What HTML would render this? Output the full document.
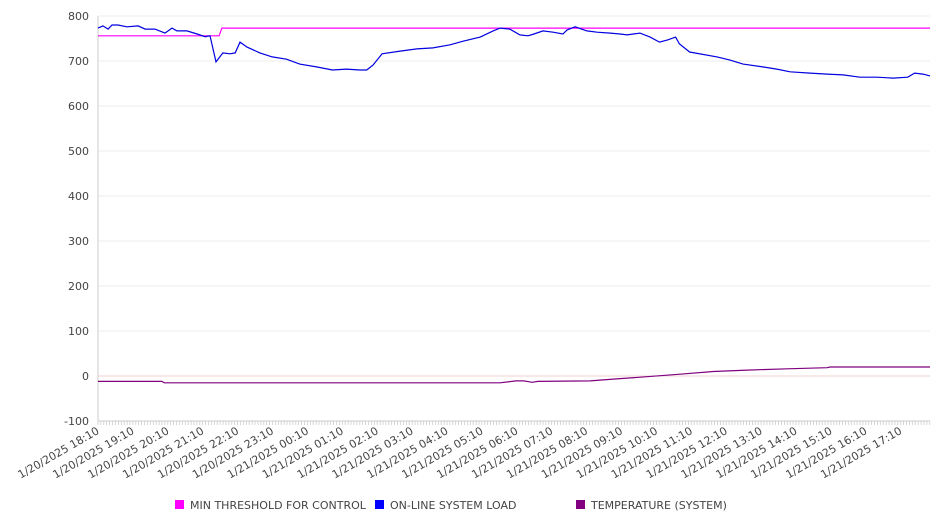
<!DOCTYPE html>
<html><head><meta charset="utf-8"><style>
body{margin:0;background:#fff;font-family:"DejaVu Sans","Liberation Sans",sans-serif;}
svg text{font-family:"DejaVu Sans","Liberation Sans",sans-serif;fill:#444;}
</style></head><body>
<svg id="c" width="946" height="526"></svg>
<script>
const yTicks=[800,700,600,500,400,300,200,100,0,-100];
const xLabels=["1/20/2025 18:10","1/20/2025 19:10","1/20/2025 20:10","1/20/2025 21:10","1/20/2025 22:10","1/20/2025 23:10","1/21/2025 00:10","1/21/2025 01:10","1/21/2025 02:10","1/21/2025 03:10","1/21/2025 04:10","1/21/2025 05:10","1/21/2025 06:10","1/21/2025 07:10","1/21/2025 08:10","1/21/2025 09:10","1/21/2025 10:10","1/21/2025 11:10","1/21/2025 12:10","1/21/2025 13:10","1/21/2025 14:10","1/21/2025 15:10","1/21/2025 16:10","1/21/2025 17:10"];
// hours since 18:10
const loadT=[0,0.14,0.29,0.4,0.57,0.83,1.15,1.35,1.63,1.92,2.12,2.26,2.55,2.84,3.07,3.21,3.38,3.58,3.78,3.93,4.07,4.27,4.64,4.99,5.4,5.78,6.26,6.72,7.12,7.5,7.7,7.88,8.14,8.66,9.14,9.6,10.09,10.46,10.95,11.32,11.52,11.8,12.09,12.32,12.49,12.75,13.04,13.32,13.44,13.67,14.01,14.3,14.68,14.96,15.16,15.53,15.82,16.09,16.32,16.55,16.66,16.95,17.74,18.11,18.48,19.05,19.45,19.83,20.4,20.89,21.35,21.83,22.32,22.78,23.2,23.4,23.64,23.84];
const loadV=[773,778,771,780,780,776,778,771,771,762,773,767,767,760,754,756,698,718,716,718,742,731,718,709,704,693,687,680,682,680,680,691,716,722,727,729,736,744,753,767,773,771,758,756,760,767,764,760,769,776,767,764,762,760,758,762,753,742,747,753,738,720,709,702,693,687,682,676,673,671,669,664,664,662,664,673,671,667];
const threshT=[0,3.47,3.55,23.84];
const threshV=[756,756,773,773];
const tempT=[0,1.83,1.9,11.52,11.97,12.2,12.44,12.6,14.1,14.76,15.73,16.68,17.63,18.6,19.75,20.89,20.98,23.84];
const tempV=[-12,-12,-15,-15,-11,-11,-14,-12,-11,-7,-1.5,4,10,13,16,18.5,20,20];
const NS="http://www.w3.org/2000/svg",svg=document.getElementById('c');
const X0=98,X1=930,HPX=34.9,Y0=16,Y1=421;
const xs=h=>X0+h*HPX, ys=v=>Y1-(v+100)*(Y1-Y0)/900;
function el(t,a,p){const e=document.createElementNS(NS,t);for(const k in a)e.setAttribute(k,a[k]);(p||svg).appendChild(e);return e;}
yTicks.forEach(v=>{
 const g=el('line',{x1:X0,x2:X1,y1:ys(v),y2:ys(v),stroke:v===0?'#f3d0d0':'#ececec'});
 
 
 const t=el('text',{x:89,y:ys(v)+4,'text-anchor':'end','font-size':11});t.textContent=v;
 
 
});
const ax=el('line',{x1:X0,x2:X0,y1:Y0,y2:Y1,stroke:'#ccc'});


const bx=el('line',{x1:X0,x2:X1,y1:Y1,y2:Y1,stroke:'#ccc'});


let d='';for(let i=0;i<=286;i++){const x=X0+i*HPX/12;if(x>X1)break;d+=`M${x.toFixed(1)} ${Y1}v4`;}
const mt=el('path',{d:d,stroke:'#ccc','stroke-width':0.8});


xLabels.forEach((s,i)=>{const x=xs(i)+2,y=Y1+12;
 const t=el('text',{x:x,y:y,'text-anchor':'end','font-size':11,transform:`rotate(-30 ${x} ${y})`});t.textContent=s;
 
 
});
function line(T,V,c,n){const p=el('polyline',{points:T.map((t,i)=>xs(t).toFixed(1)+','+ys(V[i]).toFixed(1)).join(' '),fill:'none',stroke:c,'stroke-width':1.2});
 
 }
line(tempT,tempV,'#800080','temperature-line');
line(threshT,threshV,'#ff00ff','threshold-line');
line(loadT,loadV,'#0000e0','load-line');
const leg=[['#ff00ff','MIN THRESHOLD FOR CONTROL',175],['#0000ff','ON-LINE SYSTEM LOAD',375],['#800080','TEMPERATURE (SYSTEM)',576]];
leg.forEach(l=>{const g=el('g',{});
 
 
 el('rect',{x:l[2],y:500,width:9,height:9,fill:l[0]},g);
 const t=el('text',{x:l[2]+15,y:509,'font-size':11},g);t.textContent=l[1];});
</script>
</body></html>
